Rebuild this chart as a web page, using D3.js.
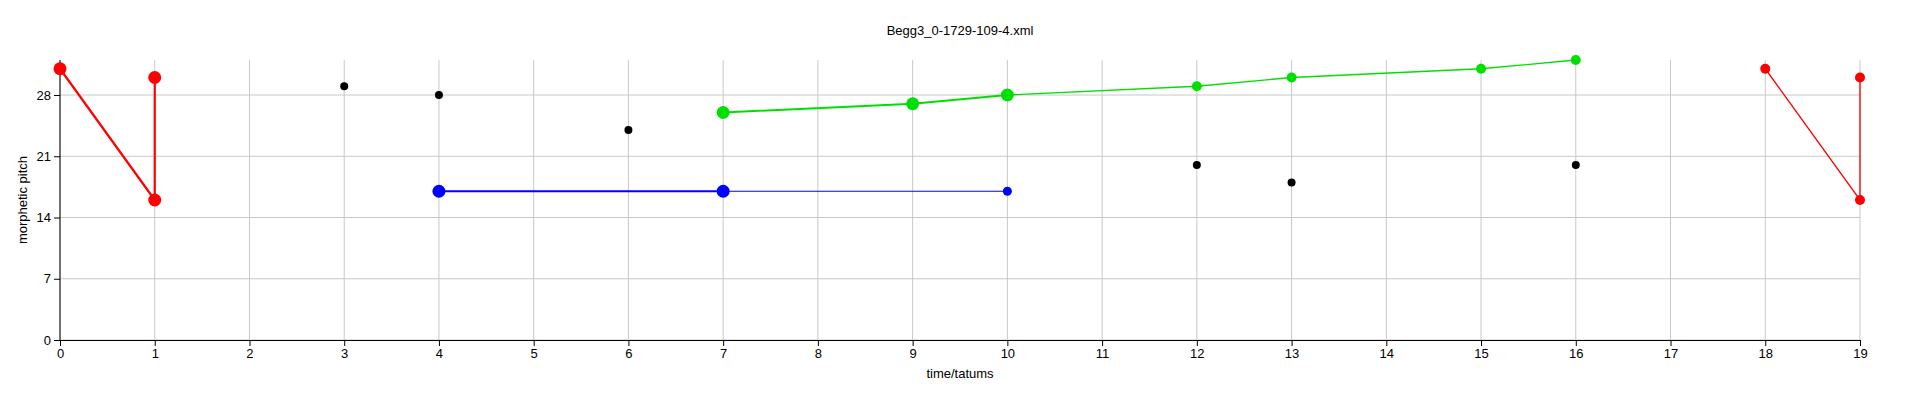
<!DOCTYPE html>
<html><head><meta charset="utf-8">
<script src="https://cdn.jsdelivr.net/npm/d3@7"></script>
<style>body{margin:0;background:#fff}text{font-family:"Liberation Sans",Arial,sans-serif}</style>
</head><body><svg id="c" width="1920" height="401"></svg>
<script>
const title = "Begg3_0-1729-109-4.xml";
const xTicks = d3.range(0, 20);
const yTicks = [0, 7, 14, 21, 28];

// line groups: [time, pitch] points, with heavy (big) or light
const redA = [[0, 31], [1, 16], [1, 30]];
const redB = [[18, 31], [19, 16], [19, 30]];
const blueHeavy = [[4, 17], [7, 17]];
const blueLight = [[7, 17], [10, 17]];
const greenHeavy = [[7, 26], [9, 27], [10, 28]];
const greenLight = [[10, 28], [12, 29], [13, 30], [15, 31], [16, 32]];
const blackPts = [[3, 29], [4, 28], [6, 24], [12, 20], [13, 18], [16, 20]];

const svg = d3.select("#c");
const x = d3.scaleLinear().domain([0, 19]).range([60, 1860]);
const y = d3.scaleLinear().domain([0, 32]).range([340, 60]);

// grid
svg.append("g").selectAll("line").data(xTicks).enter().append("line")
  .attr("x1", d => x(d)).attr("x2", d => x(d)).attr("y1", y(0)).attr("y2", y(32))
  .attr("stroke", "#c8c8c8");
svg.append("g").selectAll("line").data(yTicks).enter().append("line")
  .attr("x1", x(0)).attr("x2", x(19)).attr("y1", d => y(d)).attr("y2", d => y(d))
  .attr("stroke", "#c8c8c8");

// axes
svg.append("g").attr("transform", `translate(0,${y(0)})`)
  .call(d3.axisBottom(x).tickValues(xTicks).tickFormat(d3.format("d")).tickSizeOuter(0))
  .call(g => g.selectAll("text").attr("font-size", 13).attr("fill", "#000"));
svg.append("g").attr("transform", `translate(${x(0)},0)`)
  .call(d3.axisLeft(y).tickValues(yTicks).tickSizeOuter(0))
  .call(g => g.select(".domain").attr("d", `M0,${y(0)}V${y(32)}`))
  .call(g => g.selectAll("text").attr("font-size", 13).attr("fill", "#000"));

svg.append("text").attr("x", 960).attr("y", 35).attr("text-anchor", "middle")
  .attr("font-size", 13).text(title);
svg.append("text").attr("x", 960).attr("y", 378).attr("text-anchor", "middle")
  .attr("font-size", 13).text("time/tatums");
svg.append("text").attr("transform", `translate(27,${y(16)}) rotate(-90)`)
  .attr("text-anchor", "middle").attr("font-size", 13).text("morphetic pitch");

const line = d3.line().x(d => x(d[0])).y(d => y(d[1]));
function draw(data, color, w, r) {
  svg.append("path").datum(data).attr("d", line).attr("fill", "none")
    .attr("stroke", color).attr("stroke-width", w);
  svg.append("g").selectAll("circle").data(data).enter().append("circle")
    .attr("cx", d => x(d[0])).attr("cy", d => y(d[1])).attr("r", r).attr("fill", color);
}
draw(redA, "#ff0000", 2.2, 6.5);
draw(redB, "#ff0000", 1.3, 5);
draw(blueLight, "#0000ff", 1.2, 4.5);
draw(blueHeavy, "#0000ff", 2, 6.5);
draw(greenLight, "#00e000", 1.3, 5);
draw(greenHeavy, "#00e000", 2, 6.5);
svg.append("g").selectAll("circle").data(blackPts).enter().append("circle")
  .attr("cx", d => x(d[0])).attr("cy", d => y(d[1])).attr("r", 4).attr("fill", "#000");
</script></body></html>
